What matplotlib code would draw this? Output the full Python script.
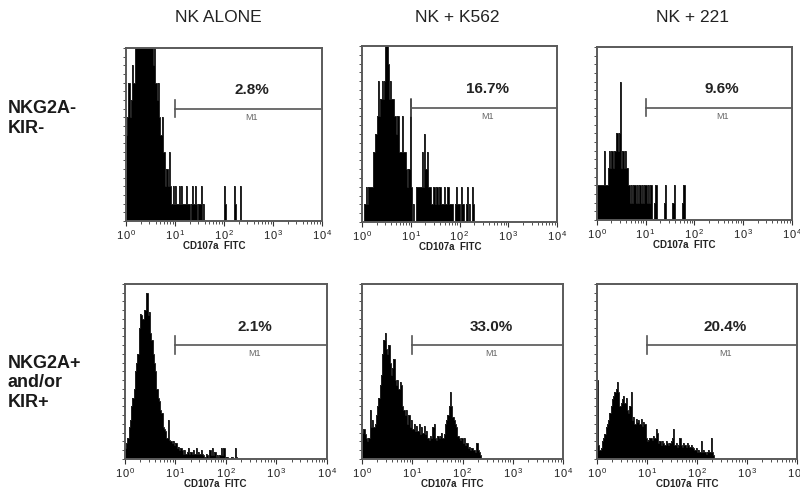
import numpy as np
import matplotlib
matplotlib.use("Agg")
import matplotlib.pyplot as plt
from matplotlib.ticker import FixedLocator, MultipleLocator, LogLocator, NullFormatter

plt.rcParams['font.family'] = ['Liberation Sans', 'DejaVu Sans']
plt.rcParams['mathtext.fontset'] = 'custom'
plt.rcParams['mathtext.rm'] = 'Liberation Sans'
plt.rcParams['mathtext.bf'] = 'Liberation Sans:bold'

# ---------------- data ----------------
col_titles = ["NK ALONE", "NK + K562", "NK + 221"]
row_labels = ["NKG2A-\nKIR-", "NKG2A+\nand/or\nKIR+"]
percents = [["2.8%", "16.7%", "9.6%"], ["2.1%", "33.0%", "20.4%"]]
gate_label = "M1"
x_label = "CD107a  FITC"
tick_exps = [0, 1, 2, 3, 4]
bins_per_decade = 40
n_decades = 4

# counts per channel (40 channels per decade, starting at 10^0)
nk_alone_neg = [5, 6, 8, 6, 7, 9, 8, 10,
                11, 10, 12, 13, 11, 12, 14, 11, 12, 10, 13, 11, 10, 11,
                9, 10, 8, 7, 8, 6,
                5, 6, 4, 4,
                2, 3, 2, 4,
                2, 1, 2, 1,
                2, 1, 1, 2, 1, 2, 1, 1,
                1, 2, 1, 1, 0, 1, 2, 1, 2, 1, 0, 1, 1, 2, 0, 1,
                0, 0, 0, 0, 0, 0, 0, 0, 0, 0, 0, 0, 0, 0, 0, 0,
                2, 1, 0, 0, 0, 0, 0, 0, 2, 1, 0, 0, 0, 2]
k562_neg = [0, 0, 1, 2, 1, 2, 2, 2, 2, 4, 4, 5, 6, 8, 6, 7, 8, 7, 8, 10, 11, 9,
            7, 8, 7, 7, 6, 6, 5, 6, 4, 4, 4, 6, 4, 4, 3, 2, 3, 7, 2, 0, 1, 0,
            2, 2, 2, 2, 2, 4, 2, 5, 3, 4, 2, 2,
            2, 1, 2, 2, 1, 2, 1, 2, 2, 1, 1, 2, 1, 1, 2, 1,
            1, 1, 1, 0, 1, 2, 1, 1, 0, 2, 1, 1, 0, 1, 2, 0, 1, 0, 2, 1]
c221_neg = [2, 2, 2, 2, 2, 2, 4, 2, 2, 3, 4, 3, 4, 3, 4, 4, 5, 4, 5, 8,
            3, 4, 3, 4, 3, 3,
            2, 1, 2, 1, 2, 2, 1, 2, 1, 2, 1, 2, 1, 2, 2, 1, 2, 1, 2,
            0, 0, 1, 2, 0, 0, 0, 0, 0, 0, 1, 2, 0, 0, 0, 0, 0, 1, 2,
            0, 0, 0, 0, 0, 0, 1, 2]
nk_alone_pos = [6, 9, 12, 18, 22, 30, 35, 40, 50, 55, 60, 75, 83, 82, 80, 85,
                85, 95, 82, 84, 72, 68, 60, 55, 50, 40, 35, 33, 28, 26,
                18, 17, 16, 12, 22, 11, 10, 9, 10, 8, 9, 6, 7, 5, 6, 5,
                3, 5, 3, 4, 6, 3, 4, 3, 5, 3, 6, 3, 4, 3, 5, 3,
                2, 1, 3, 2, 1, 5, 2, 6, 2, 4, 1, 2, 1, 2, 6, 2,
                6, 0, 1, 1, 0, 0, 1, 1, 0, 6, 1]
k562_pos = [15, 17, 14, 12, 10, 12, 28, 18, 22, 18, 20, 25, 30, 35, 42, 48,
            60, 68, 72, 63, 60, 65, 55, 48, 52, 57, 45, 42, 45, 40, 44, 42,
            30, 28, 25, 28, 20, 25, 18, 22, 17, 20, 16, 19,
            16, 20, 14, 18, 15, 19, 14, 16, 12, 11, 13, 12, 18, 20,
            12, 11, 13, 12, 13, 15, 12, 14, 20, 22, 25, 30, 38, 30,
            24, 22, 20, 18, 13, 12, 11, 12, 9, 12, 8, 9,
            6, 7, 5, 6, 5, 5, 4, 9, 5, 4, 2]
c221_pos = [45, 8, 5, 6, 10, 12, 14, 18, 20, 22, 26, 30, 34, 36, 38, 40, 44, 38,
            30, 32, 34, 36, 32, 35, 28, 26, 30, 38, 22, 24,
            20, 23, 21, 22, 20, 23, 19, 21, 20, 12, 10, 11, 12, 12, 11, 13, 12,
            17, 15, 9, 10, 8, 10, 9, 8, 10, 9, 8, 9, 10, 12, 17,
            8, 9, 7, 8, 12, 8, 7, 9, 8, 7, 9, 8, 7, 8, 7, 6,
            5, 6, 4, 5, 4, 10, 4, 5, 4, 3, 4, 5, 4, 12, 4, 2]

panels = [[nk_alone_neg, k562_neg, c221_neg], [nk_alone_pos, k562_pos, c221_pos]]
row_ymax = [10, 100]
row_ystep = [0.5, 5]

# ---------------- layout (figure fractions) ----------------
axes_rects = [
    [(0.1575, 0.5499, 0.2450, 0.3523), (0.4525, 0.5479, 0.2438, 0.3585), (0.7460, 0.5520, 0.2438, 0.3523)],
    [(0.1560, 0.0652, 0.2525, 0.3564), (0.4525, 0.0652, 0.2513, 0.3564), (0.7460, 0.0652, 0.2500, 0.3564)],
]
title_x = [218, 457, 693]

fig = plt.figure(figsize=(8.0, 4.91), dpi=100)
edges = np.logspace(0, n_decades, bins_per_decade * n_decades + 1)
frame_col = '#5a5a5a'

for r in range(2):
    for c in range(3):
        ax = fig.add_axes(axes_rects[r][c])
        vals = np.zeros(bins_per_decade * n_decades)
        d = np.asarray(panels[r][c], dtype=float)
        vals[:len(d)] = d
        ax.stairs(vals, edges, fill=True, color='black', lw=0)
        ax.stairs(vals, edges, fill=False, color='#222222', lw=0.7)
        ax.set_xscale('log')
        ax.set_xlim(1, 10 ** n_decades)
        ax.set_ylim(0, row_ymax[r])
        for s in ax.spines.values():
            s.set_color(frame_col)
            s.set_linewidth(1.4)
        ax.xaxis.set_major_locator(FixedLocator([10 ** e for e in tick_exps]))
        ax.xaxis.set_minor_locator(LogLocator(base=10, subs=np.arange(2, 10), numticks=20))
        ax.xaxis.set_minor_formatter(NullFormatter())
        ax.set_xticklabels([r'$\mathregular{1\,0^{%d}}$' % e for e in tick_exps])
        ax.tick_params(axis='x', which='major', length=3.5, width=0.8, color='#333333',
                       labelsize=8, pad=1.5, direction='out', labelcolor='#222222')
        ax.tick_params(axis='x', which='minor', length=2, width=0.6, color='#333333', direction='out')
        ax.yaxis.set_major_locator(MultipleLocator(row_ystep[r]))
        ax.tick_params(axis='y', which='major', length=2.5, width=0.6, color='#333333',
                       labelleft=False, direction='out')
        # gate M1
        gy = 0.65 * row_ymax[r]
        ax.plot([10, 10 ** n_decades], [gy, gy], color='#555555', lw=1.2, clip_on=False)
        ax.plot([10, 10], [gy - 0.05 * row_ymax[r], gy + 0.05 * row_ymax[r]],
                color='#555555', lw=1.2)
        ax.text(10 ** 2.57, 0.755 * row_ymax[r], percents[r][c], ha='center', va='center',
                fontsize=11, fontweight='bold', color='#222222')
        ax.text(10 ** 2.57, 0.60 * row_ymax[r], gate_label, ha='center', va='center',
                fontsize=6.5, color='#666666')
        ax.text(10 ** 1.8, -0.142, x_label, transform=ax.get_xaxis_transform(),
                ha='center', va='center', fontsize=7, fontweight='bold', color='#222222')
        if r == 0:
            fig.text(title_x[c] / 800, 1 - 17 / 491, col_titles[c],
                     ha='center', va='center', fontsize=12.5, color='#222222')

fig.text(8 / 800, 1 - 133 / 491, row_labels[0], ha='left', va='baseline', fontsize=13,
         fontweight='bold', color='#1a1a1a', linespacing=1.2)
fig.text(8 / 800, 1 - 407 / 491, row_labels[1], ha='left', va='baseline', fontsize=13,
         fontweight='bold', color='#1a1a1a', linespacing=1.2)

fig.savefig('out.png', dpi=100, facecolor='white')
